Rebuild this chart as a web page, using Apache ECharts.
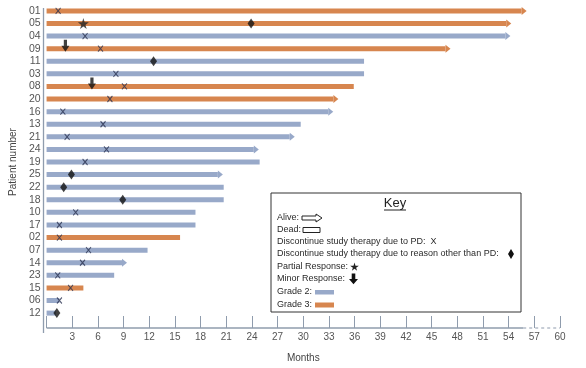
<!DOCTYPE html>
<html><head><meta charset="utf-8">
<script src="https://cdn.jsdelivr.net/npm/echarts@6/dist/echarts.min.js"></script>
<style>html,body{margin:0;padding:0;background:#fff}#c{width:586px;height:368px}</style>
</head><body><div id="c"></div>
<script>
const patients = ['01','05','04','09','11','03','08','20','16','13','21','24','19','25','22','18','10','17','02','07','14','23','15','06','12'];
const months   = [56.1,54.3,54.2,47.2,37.1,37.1,35.9,34.1,33.5,29.7,29.0,24.8,24.9,20.6,20.7,20.7,17.4,17.4,15.6,11.8,9.4,7.9,4.3,1.5,1.1];
const grade    = [3,3,2,3,2,2,3,3,2,2,2,2,2,2,2,2,2,2,3,2,2,2,3,2,2];
const alive    = [1,1,1,1,0,0,0,1,1,0,1,1,0,1,0,0,0,0,0,0,1,0,0,0,0];
const pdMarks      = [[1.35,'01'],[4.5,'04'],[6.3,'09'],[8.1,'03'],[9.1,'08'],[7.4,'20'],[1.9,'16'],[6.6,'13'],[2.4,'21'],[7.0,'24'],[4.5,'19'],[3.4,'10'],[1.5,'17'],[1.5,'02'],[4.9,'07'],[4.2,'14'],[1.3,'23'],[2.8,'15'],[1.5,'06']];
const otherMarks   = [[23.9,'05'],[12.5,'11'],[2.9,'25'],[2.0,'22'],[8.9,'18'],[1.2,'12']];
const partialMarks = [[4.3,'05']];
const minorMarks   = [[2.2,'09'],[5.3,'08']];

const BLUE = '#98a9c9', ORANGE = '#d7864f', AXIS = '#8f9cad';
const STAR = 'path://M50,0L61,35L98,35L68,57L79,91L50,70L21,91L32,57L2,35L39,35Z';
const DOWN = 'path://M3,0H7V6H10L5,12L0,6H3Z';
const XPATH = 'path://M0,0L10,12M10,0L0,12';
const starPts = [[50,0],[61,35],[98,35],[68,57],[79,91],[50,70],[21,91],[32,57],[2,35],[39,35]];
const downPts = [[3,0],[7,0],[7,6],[10,6],[5,12],[0,6],[3,6]];

const barData = patients.map((p,i)=>[months[i], p, grade[i], alive[i]]);

const chart = echarts.init(document.getElementById('c'), null, {renderer:'canvas'});
const font = 'Liberation Sans, Arial, sans-serif';
chart.setOption({
  animation:false,
  grid:{left:43, right:26, top:4.6, bottom:42.6},
  xAxis:[{
    type:'value', min:0, max:60, interval:3, offset:2.6,
    axisLine:{show:false},
    axisTick:{show:true, length:6, lineStyle:{color:AXIS}},
    axisLabel:{color:'#555', fontSize:10, fontFamily:font, margin:10,
      formatter:v=> v===0 ? '' : String(v)},
    splitLine:{show:false},
    name:'Months', nameLocation:'middle', nameGap:31,
    nameTextStyle:{color:'#444', fontSize:10, fontFamily:font}
  },{
    type:'value', min:0, max:60, interval:3, offset:2.6, position:'bottom',
    axisLine:{show:false},
    axisTick:{show:true, inside:true, length:6, lineStyle:{color:AXIS}},
    axisLabel:{show:false}, splitLine:{show:false}
  }],
  yAxis:{
    type:'category', data:patients, inverse:true,
    axisLine:{show:false}, axisTick:{show:false},
    axisLabel:{color:'#555', fontSize:10.5, fontFamily:font, margin:6, interval:0},
    name:'Patient number', nameLocation:'middle', nameGap:26, nameRotate:90,
    nameTextStyle:{color:'#444', fontSize:10, fontFamily:font}
  },
  series:[
    {
      type:'custom', name:'bars', data:barData,
      encode:{x:0, y:1},
      renderItem:(params, api)=>{
        const end = api.value(0);
        const row = api.value(1);
        const g = api.value(2);
        const isAlive = api.value(3);
        const p0 = api.coord([0, row]);
        const p1 = api.coord([end, row]);
        const h = 5;
        const col = g === 3 ? ORANGE : BLUE;
        const children = [];
        const headLen = isAlive ? 5 : 0;
        children.push({type:'rect', shape:{x:p0[0], y:p0[1]-h/2, width:Math.max(0,p1[0]-p0[0]-headLen), height:h}, style:{fill:col}});
        if (isAlive) {
          children.push({type:'polygon', shape:{points:[[p1[0]-headLen, p1[1]-4],[p1[0], p1[1]],[p1[0]-headLen, p1[1]+4]]}, style:{fill:col}});
        }
        return {type:'group', children};
      }
    },
    {type:'scatter', name:'pd', data:pdMarks, symbol:XPATH, symbolSize:[5,6],
     itemStyle:{color:'rgba(0,0,0,0)', borderColor:'#2b3250', borderWidth:1.1}, z:5},
    {type:'scatter', name:'other', data:otherMarks, symbol:'diamond', symbolSize:[7,10],
     itemStyle:{color:'#111'}, z:5},
    {type:'scatter', name:'partial', data:partialMarks, symbol:STAR, symbolSize:11,
     itemStyle:{color:'#222'}, z:5},
    {type:'scatter', name:'minor', data:minorMarks, symbol:DOWN, symbolSize:[8,12], symbolOffset:[0,-3],
     itemStyle:{color:'#111'}, z:5}
  ]
});

const xa = chart.convertToPixel({xAxisIndex:0}, 0);
const xs = chart.convertToPixel({xAxisIndex:0}, 55.7);
const xe = chart.convertToPixel({xAxisIndex:0}, 60);
const ay = 328;
const lx = 277, tfs = 9;
const txt = (t, y) => ({type:'text', x:lx, y:y, style:{text:t, fill:'#2a2a2a', font:tfs+'px '+font, verticalAlign:'middle'}});
const scalePts = (pts, s, ox, oy) => pts.map(p=>[ox+p[0]*s, oy+p[1]*s]);
chart.setOption({
  graphic:[
    {type:'line', shape:{x1:xa, y1:ay, x2:xs, y2:ay}, style:{stroke:AXIS, lineWidth:1.5}},
    {type:'line', shape:{x1:xs, y1:ay, x2:xe, y2:ay}, style:{stroke:AXIS, lineWidth:1.2, lineDash:[3,3]}},
    {type:'line', shape:{x1:43.5, y1:8, x2:43.5, y2:333}, style:{stroke:AXIS, lineWidth:1.3}},
    {type:'rect', shape:{x:271, y:193, width:250, height:119}, style:{fill:'#fff', stroke:'#333', lineWidth:1}},
    {type:'text', x:395, y:203, style:{text:'Key', fill:'#222', font:'13px '+font, align:'center', verticalAlign:'middle'}},
    {type:'line', shape:{x1:384, y1:210, x2:406, y2:210}, style:{stroke:'#222', lineWidth:1}},
    txt('Alive:', 218),
    {type:'polygon', shape:{points:[[302,216],[316,216],[316,214],[322,218],[316,222],[316,220],[302,220]]}, style:{fill:'#fff', stroke:'#222', lineWidth:1}},
    txt('Dead:', 230),
    {type:'rect', shape:{x:303, y:227.5, width:17, height:5}, style:{fill:'#fff', stroke:'#222', lineWidth:1}},
    txt('Discontinue study therapy due to PD:  X', 242),
    txt('Discontinue study therapy due to reason other than PD:', 254),
    {type:'polygon', shape:{points:[[511,249],[514,254],[511,259],[508,254]]}, style:{fill:'#111'}},
    txt('Partial Response:', 267),
    {type:'polygon', shape:{points:scalePts(starPts, 0.09, 350, 262.5)}, style:{fill:'#222'}},
    txt('Minor Response:', 279),
    {type:'polygon', shape:{points:scalePts(downPts, 0.9, 349, 273.5)}, style:{fill:'#111'}},
    txt('Grade 2:', 292),
    {type:'rect', shape:{x:315, y:290, width:19, height:4.5}, style:{fill:BLUE}},
    txt('Grade 3:', 305),
    {type:'rect', shape:{x:315, y:302.5, width:19, height:5}, style:{fill:ORANGE}}
  ]
});
</script></body></html>
